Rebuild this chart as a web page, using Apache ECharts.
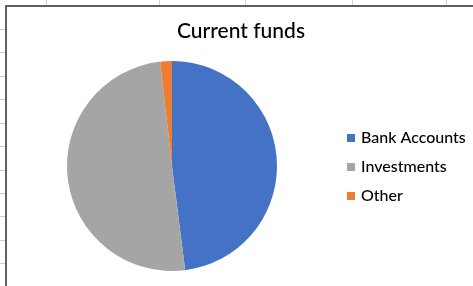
<!DOCTYPE html>
<html>
<head>
<meta charset="utf-8">
<script src="https://cdn.jsdelivr.net/npm/echarts@6/dist/echarts.min.js"></script>
<style>
  html, body { margin: 0; padding: 0; background: #fff; overflow: hidden; }
  #sheet { position: absolute; left: 0; top: 0; width: 473px; height: 286px; }
  .vline { position: absolute; top: 0; width: 1px; height: 5px; background: #d0d0d0; }
  .hline { position: absolute; left: 0; height: 1px; width: 5px; background: #d0d0d0; }
  #chart {
    position: absolute; left: 5px; top: 5px;
    width: 468px; height: 281px;
    border-left: 2px solid #5f5f5f; border-top: 2px solid #5f5f5f;
    background: #fff;
  }
</style>
</head>
<body>
<div id="sheet"></div>
<div id="chart"></div>
<script>
// spreadsheet cell lines behind the chart
var colLines = [46, 159, 245, 352, 446];
var rowLines = [29, 52, 76, 99, 123, 146, 170, 193, 216, 240, 263];

// pie data
var categories = ['Bank Accounts', 'Investments', 'Other'];
var values = [48.0, 50.2, 1.8];
var colors = ['#4472C4', '#A5A5A5', '#ED7D31'];

var sheet = document.getElementById('sheet');
colLines.forEach(function (x) {
  var d = document.createElement('div');
  d.className = 'vline';
  d.style.left = x + 'px';
  sheet.appendChild(d);
});
rowLines.forEach(function (y) {
  var d = document.createElement('div');
  d.className = 'hline';
  d.style.top = y + 'px';
  sheet.appendChild(d);
});

var pieData = categories.map(function (name, i) {
  return { name: name, value: values[i], itemStyle: { color: colors[i] } };
});

var myChart = echarts.init(document.getElementById('chart'));
myChart.setOption({
  animation: false,
  title: {
    text: 'Current funds',
    left: 'center',
    top: 9,
    textStyle: {
      fontFamily: 'Lato',
      fontSize: 21,
      fontWeight: 500,
      color: '#000'
    }
  },
  legend: {
    orient: 'vertical',
    left: 335,
    top: 118,
    itemWidth: 8,
    itemHeight: 8,
    itemGap: 13,
    icon: 'rect',
    data: categories,
    textStyle: {
      fontFamily: 'Lato',
      fontSize: 16,
      fontWeight: 500,
      color: '#000',
      padding: [0, 0, 0, 1]
    }
  },
  series: [
    {
      name: 'Current funds',
      type: 'pie',
      radius: 105,
      center: [165, 159],
      startAngle: 90,
      clockwise: true,
      label: { show: false },
      labelLine: { show: false },
      itemStyle: { borderWidth: 0 },
      data: pieData
    }
  ]
});
</script>
</body>
</html>
